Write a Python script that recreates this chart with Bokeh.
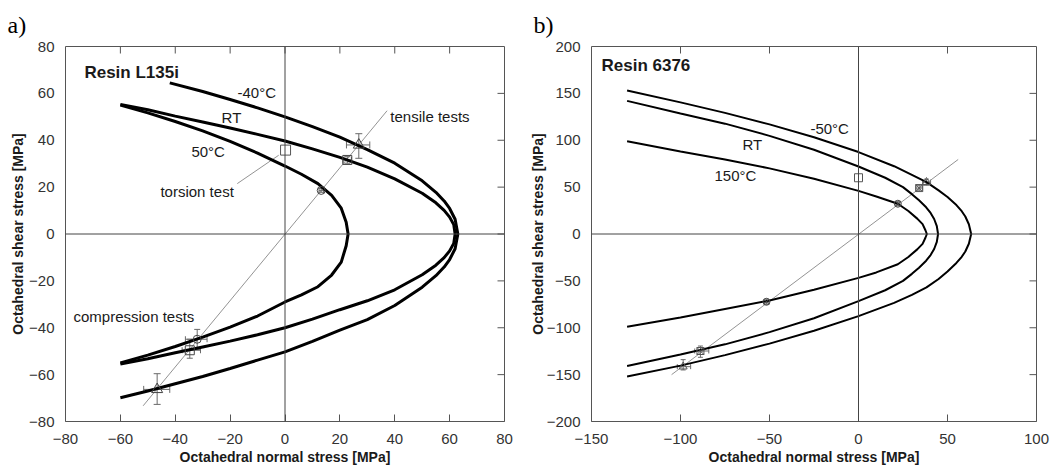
import math
from bokeh.plotting import figure
from bokeh.models import (ColumnDataSource, Whisker, Label, Span,
                          FixedTicker, Range1d, TeeHead)
from bokeh.layouts import row
from bokeh.embed import file_html
from bokeh.resources import INLINE

# ---------------- Panel a) Resin L135i ----------------
a_xticks = [-80, -60, -40, -20, 0, 20, 40, 60, 80]
a_yticks = [-80, -60, -40, -20, 0, 20, 40, 60, 80]

# -40 degC yield curve (upper branch then lower branch)
a_m40_sig = [-42, -30, -20, -10, 0, 10, 20, 30, 40, 50, 55, 58, 60, 62, 63,
             62, 60, 58, 55, 50, 40, 30, 20, 10, 0, -10, -20, -30, -40, -50, -60]
a_m40_tau = [64.5, 60.8, 57.4, 53.8, 50.0, 45.8, 41.3, 36.0, 30.2, 22.7, 17.8, 14.1, 10.9, 6.3, 0,
             -6.3, -10.9, -14.1, -17.8, -22.7, -30.5, -36.5, -41.0, -45.8, -50.3, -53.8, -57.4, -60.8, -63.9, -67.0, -69.9]
# RT yield curve
a_rt_sig = [-60, -50, -40, -30, -20, -10, 0, 10, 20, 30, 40, 50, 55, 58, 60, 61.5, 62,
            61.5, 60, 58, 55, 50, 40, 30, 20, 10, 0, -10, -20, -30, -40, -50, -60]
a_rt_tau = [55.3, 53.0, 50.3, 47.8, 45.2, 42.5, 39.7, 36.3, 32.7, 28.5, 23.5, 17.4, 13.3, 10.1, 7.2, 4.0, 0,
            -4.0, -7.2, -10.1, -13.3, -17.4, -23.8, -28.5, -32.3, -36.3, -40.0, -43.0, -45.7, -48.2, -50.7, -53.2, -55.5]
# 50 degC yield curve
a_50_sig = [-60, -50, -40, -30, -20, -10, 0, 6, 12, 17, 20.5, 22.3, 23,
            22.3, 20.5, 17, 12, 6, 0, -10, -20, -30, -40, -50, -60]
a_50_tau = [55.0, 51.7, 48.0, 44.0, 39.5, 34.5, 29.0, 25.5, 21.5, 16.5, 11.0, 5.0, 0,
            -5.0, -12.0, -17.5, -22.5, -26.0, -29.0, -35.0, -39.7, -44.0, -48.0, -51.7, -55.0]

# test points (tension / compression): x, y, xlo, xhi, ylo, yhi
a_tri_x = [26.9, -46.6]
a_tri_y = [38.0, -66.3]
a_tri_xlo = [22.4, -51.5]
a_tri_xhi = [30.9, -42.0]
a_tri_ylo = [32.3, -72.7]
a_tri_yhi = [42.8, -59.6]

a_sq_x = [22.7, -34.7]
a_sq_y = [31.6, -49.6]
a_sq_xlo = [21.2, -37.5]
a_sq_xhi = [24.2, -30.8]
a_sq_ylo = [30.2, -53.0]
a_sq_yhi = [33.0, -44.9]

a_ci_x = [13.2, -32.0]
a_ci_y = [18.6, -44.9]
a_ci_xlo = [12.4, -36.3]
a_ci_xhi = [14.0, -28.4]
a_ci_ylo = [17.8, -49.2]
a_ci_yhi = [19.4, -40.7]

a_tor_x = [0.2]
a_tor_y = [35.8]

a_uni_x = [-51.7, 37.2]
a_uni_y = [-73.3, 52.6]
a_lead_x = [-17.4, -2.3]
a_lead_y = [21.5, 33.6]

# ---------------- Panel b) Resin 6376 ----------------
b_xticks = [-150, -100, -50, 0, 50, 100]
b_yticks = [-200, -150, -100, -50, 0, 50, 100, 150, 200]

b_m50_sig = [-130, -100, -75, -50, -25, 0, 20, 30, 38.2, 45, 50, 55, 58, 60, 62, 63.3,
             62, 60, 58, 55, 50, 45, 38.2, 30, 20, 0, -25, -50, -75, -100, -130]
b_m50_tau = [153, 140.4, 129.2, 116.9, 103.2, 87.4, 72.3, 63.1, 55.3, 46.5, 39.5, 30.9, 24.3, 18.7, 10.4, 0,
             -10.4, -18.7, -24.3, -30.9, -40.0, -48.0, -57.0, -65.0, -73.5, -87.6, -103.2, -116.9, -129.2, -140.4, -152.1]
b_rt_sig = [-130, -100, -75, -50, -25, 0, 15, 25, 30, 34, 38, 40.5, 42.5, 44, 44.7,
            44, 42.5, 40.5, 38, 34, 30, 25, 15, 0, -25, -50, -75, -100, -130]
b_rt_tau = [142, 128.6, 117.7, 104.7, 89.9, 72.0, 60.0, 50.0, 42.5, 36.0, 28.5, 22.5, 16.0, 8.5, 0,
            -8.5, -16.0, -22.5, -28.5, -36.0, -42.5, -50.0, -60.0, -71.6, -89.9, -104.7, -117.7, -128.6, -140.7]
b_150_sig = [-130, -100, -75, -50, -25, 0, 10, 22.1, 28, 33, 36, 37.6, 38.4,
             37.6, 36, 33, 28, 22.1, 10, 0, -25, -50, -75, -100, -130]
b_150_tau = [99, 88, 79.5, 70, 59, 46, 40, 32.3, 24.5, 16.4, 10.5, 4, 0,
             -4, -10.5, -16.4, -24.5, -32.3, -41, -46.8, -59.5, -71, -80, -89, -98.9]

b_tri_x = [38.2, -98.5]
b_tri_y = [55.3, -141.5]
b_tri_xlo = [36.0, -101.8]
b_tri_xhi = [40.5, -94.3]
b_tri_ylo = [52.0, -145.0]
b_tri_yhi = [58.5, -134.0]

b_sq_x = [34.1, -88.8]
b_sq_y = [49.0, -124.8]
b_sq_xlo = [32.3, -92.0]
b_sq_xhi = [36.0, -84.1]
b_sq_ylo = [46.0, -131.5]
b_sq_yhi = [52.0, -119.5]

b_ci_x = [22.1, -51.7]
b_ci_y = [32.3, -72.3]
b_ci_xlo = [21.0, -53.0]
b_ci_xhi = [23.2, -50.4]
b_ci_ylo = [30.0, -75.0]
b_ci_yhi = [34.5, -69.5]

b_tor_x = [0.0]
b_tor_y = [60.0]

b_uni_x = [-105, 56]
b_uni_y = [-150, 79.5]

SANS = "Liberation Sans"
SERIF = "Liberation Serif"
GREY = "#555555"


def make_panel(tag, xr, yr, xticks, yticks, width, mb_left, mb_right, lab_std, title_std):
    p = figure(width=width, height=470, x_range=Range1d(*xr), y_range=Range1d(*yr),
               output_backend="svg", toolbar_location=None,
               min_border_left=mb_left, min_border_right=mb_right,
               min_border_top=46, min_border_bottom=49,
               background_fill_color="white", border_fill_color="white")
    p.grid.visible = False
    p.outline_line_color = GREY
    p.outline_line_width = 1
    p.title.text = tag
    p.title.text_font = SERIF
    p.title.text_font_size = "24px"
    p.title.text_font_style = "normal"
    p.title.text_color = "black"
    p.title.align = "left"
    p.title.vertical_align = "top"
    p.title.offset = -58
    p.title.standoff = 14

    xa = p.xaxis[0]
    ya = p.yaxis[0]
    xa.ticker = FixedTicker(ticks=xticks)
    ya.ticker = FixedTicker(ticks=yticks)
    for ax in (xa, ya):
        ax.axis_line_color = None
        ax.major_tick_out = 0
        ax.minor_tick_line_color = None
        ax.major_label_text_font = SANS
        ax.major_label_text_font_size = "15px"
        ax.major_label_text_color = "#333333"
        ax.axis_label_text_font = SANS
        ax.axis_label_text_font_size = "14px"
        ax.axis_label_text_font_style = "bold"
        ax.axis_label_text_color = "#1a1a1a"
    xa.major_tick_in = 7
    xa.major_tick_line_color = GREY
    xa.major_label_standoff = 12
    xa.axis_label_standoff = 2
    ya.major_tick_in = 0
    ya.major_tick_line_color = None
    ya.major_label_standoff = lab_std
    ya.axis_label_standoff = title_std
    xa.axis_label = "Octahedral normal stress [MPa]"
    ya.axis_label = "Octahedral shear stress [MPa]"

    # inward ticks on the top and right frame edges
    p.ray(x=xticks[1:-1], y=[yr[1]] * (len(xticks) - 2), length=7, length_units="screen",
          angle=-math.pi / 2, line_color=GREY, line_width=1)
    p.ray(x=[xr[1]] * (len(yticks) - 2), y=yticks[1:-1], length=7, length_units="screen",
          angle=math.pi, line_color=GREY, line_width=1)

    p.add_layout(Span(location=0, dimension="width", line_color="#444444", line_width=1))
    p.add_layout(Span(location=0, dimension="height", line_color="#444444", line_width=1))
    return p


def errorbars(p, x, y, xlo, xhi, ylo, yhi, head):
    src = ColumnDataSource(dict(x=x, y=y, xlo=xlo, xhi=xhi, ylo=ylo, yhi=yhi))
    col = "#6a6a6a"
    p.add_layout(Whisker(source=src, base="x", lower="ylo", upper="yhi", dimension="height",
                         line_color=col, line_width=1,
                         lower_head=TeeHead(size=head, line_color=col, line_width=1),
                         upper_head=TeeHead(size=head, line_color=col, line_width=1)))
    p.add_layout(Whisker(source=src, base="y", lower="xlo", upper="xhi", dimension="width",
                         line_color=col, line_width=1,
                         lower_head=TeeHead(size=head, line_color=col, line_width=1),
                         upper_head=TeeHead(size=head, line_color=col, line_width=1)))
    return src


def label(p, x, y, text, size="15px", bold=False):
    p.add_layout(Label(x=x, y=y, text=text, text_font=SANS, text_font_size=size,
                       text_font_style="bold" if bold else "normal", text_color="#1a1a1a",
                       text_baseline="middle", text_align="left"))


# ---------- panel a ----------
pa = make_panel("a)", (-80, 80), (-80, 80), a_xticks, a_yticks, 525, 65, 21, 11, 0)
pa.line(a_uni_x, a_uni_y, line_color="#777777", line_width=0.8)
pa.line(a_lead_x, a_lead_y, line_color="#777777", line_width=0.8)
for sx, sy in ((a_m40_sig, a_m40_tau), (a_rt_sig, a_rt_tau), (a_50_sig, a_50_tau)):
    pa.line(sx, sy, line_color="black", line_width=3)
errorbars(pa, a_tri_x, a_tri_y, a_tri_xlo, a_tri_xhi, a_tri_ylo, a_tri_yhi, 7)
errorbars(pa, a_sq_x, a_sq_y, a_sq_xlo, a_sq_xhi, a_sq_ylo, a_sq_yhi, 6)
errorbars(pa, a_ci_x, a_ci_y, a_ci_xlo, a_ci_xhi, a_ci_ylo, a_ci_yhi, 6)
pa.scatter(a_tri_x, a_tri_y, marker="triangle", size=11, fill_color=None, line_color="#444444", line_width=1)
pa.scatter(a_sq_x, a_sq_y, marker="square", size=9, fill_color=None, line_color="#444444", line_width=1)
pa.scatter(a_ci_x, a_ci_y, marker="circle", size=8, fill_color=None, line_color="#444444", line_width=1)
pa.scatter(a_tor_x, a_tor_y, marker="square", size=10, fill_color=None, line_color=GREY, line_width=1)
label(pa, -73.1, 68.7, "Resin L135i", "17px", True)
label(pa, -17.3, 60.2, "-40°C")
label(pa, -23.1, 49.9, "RT")
label(pa, -34.1, 35.0, "50°C")
label(pa, -45.4, 18.3, "torsion test")
label(pa, 38.4, 50.3, "tensile tests")
label(pa, -77.1, -35.0, "compression tests")

# ---------- panel b ----------
pb = make_panel("b)", (-150, 100), (-200, 200), b_xticks, b_yticks, 525, 66, 14, 11, -2)
pb.line(b_uni_x, b_uni_y, line_color="#777777", line_width=0.8)
for sx, sy in ((b_m50_sig, b_m50_tau), (b_rt_sig, b_rt_tau), (b_150_sig, b_150_tau)):
    pb.line(sx, sy, line_color="black", line_width=2)
errorbars(pb, b_tri_x, b_tri_y, b_tri_xlo, b_tri_xhi, b_tri_ylo, b_tri_yhi, 5)
errorbars(pb, b_sq_x, b_sq_y, b_sq_xlo, b_sq_xhi, b_sq_ylo, b_sq_yhi, 5)
errorbars(pb, b_ci_x, b_ci_y, b_ci_xlo, b_ci_xhi, b_ci_ylo, b_ci_yhi, 4)
pb.scatter(b_tri_x, b_tri_y, marker="triangle", size=8, fill_color=None, line_color=GREY, line_width=1)
pb.scatter(b_sq_x, b_sq_y, marker="square_x", size=7, fill_color=None, line_color=GREY, line_width=1)
pb.scatter(b_ci_x, b_ci_y, marker="circle_x", size=7, fill_color=None, line_color="#444444", line_width=1)
pb.scatter(b_tor_x, b_tor_y, marker="square", size=8, fill_color=None, line_color=GREY, line_width=1)
label(pb, -144.4, 179.5, "Resin 6376", "17px", True)
label(pb, -27.0, 112.4, "-50°C")
label(pb, -65.2, 95.4, "RT")
label(pb, -80.9, 62.4, "150°C")

layout = row(pa, pb)
open("out.html", "w").write(file_html(layout, INLINE))
